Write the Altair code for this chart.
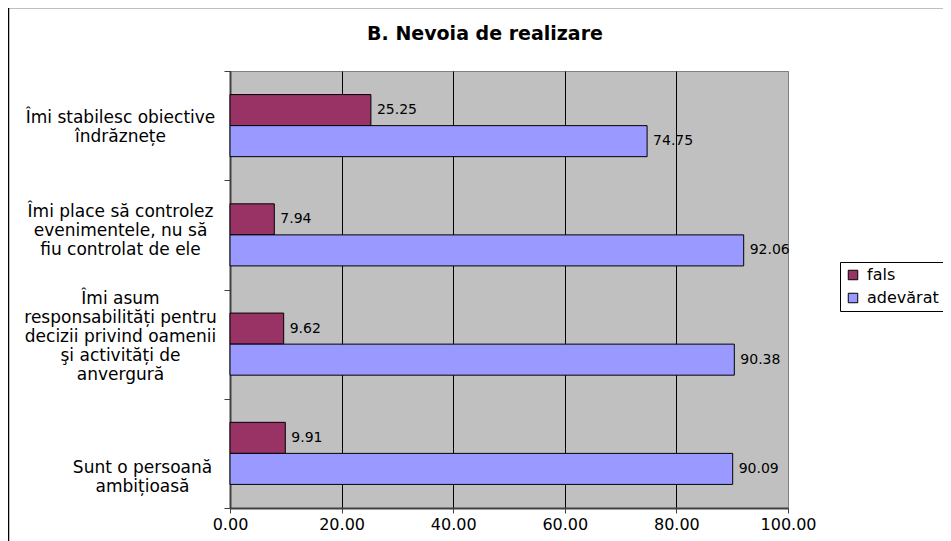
import altair as alt
import pandas as pd

# ---- data ----
categories = [
    "Îmi stabilesc obiective|îndrăznețe",
    "Îmi place să controlez|evenimentele, nu să|fiu controlat de ele",
    "Îmi asum|responsabilități pentru|decizii privind oamenii|şi activități de|anvergură",
    "Sunt o persoană|ambițioasă",
]
series_names = ["fals", "adevărat"]
fals = [25.25, 7.94, 9.62, 9.91]
adevarat = [74.75, 92.06, 90.38, 90.09]
x_ticks = [0, 20, 40, 60, 80, 100]
series_colors = ["#993366", "#9999FF"]
title_text = "B. Nevoia de realizare"

rows = []
for i, c in enumerate(categories):
    rows.append({"cat": c, "serie": series_names[0], "val": fals[i]})
    rows.append({"cat": c, "serie": series_names[1], "val": adevarat[i]})
df = pd.DataFrame(rows)

# ---- styling ----
FONT = "DejaVu Sans"
W, H = 558, 437
LINE_H = 19
# vertical shift of each wrapped category label (first line vs band centre), as in the reference
label_shift = [-8, -23, -46, 14]
label_pad = [104, 104, 104, 82]

offset_cond = [
    {"test": f"datum.value === '{c}'", "value": label_shift[i]}
    for i, c in enumerate(categories)
]
pad_cond = [
    {"test": f"datum.value === '{c}'", "value": label_pad[i]}
    for i, c in enumerate(categories)
]

x_enc = alt.X(
    "val:Q",
    scale=alt.Scale(domain=[0, 100], nice=False),
    axis=alt.Axis(
        values=x_ticks, format=".2f", title=None,
        grid=True,
        gridColor={"condition": {"test": "datum.value === 100", "value": "#808080"}, "value": "black"},
        gridWidth=1, gridOpacity=1, labelFlush=False,
        labelFont=FONT, labelFontSize=16, labelColor="black", labelPadding=3,
        tickSize=5, tickColor="#404040", domainColor="#404040", domainWidth=2,
    ),
)
y_enc = alt.Y(
    "cat:N", sort=categories,
    scale=alt.Scale(paddingInner=0, paddingOuter=0),
    axis=alt.Axis(
        title=None, grid=False,
        labelExpr="split(datum.label, '|')",
        labelAlign="center", labelBaseline="middle",
        labelPadding={"condition": pad_cond, "value": 104},
        labelOffset={"condition": offset_cond, "value": 0},
        labelLimit=400,
        labelFont=FONT, labelFontSize=17, labelLineHeight=LINE_H, labelColor="black",
        tickBand="extent", tickSize=6, tickColor="#404040",
        domainColor="#404040", domainWidth=2,
    ),
)
yoff_enc = alt.YOffset(
    "serie:N", sort=series_names,
    scale=alt.Scale(paddingInner=0, paddingOuter=0.76),
)

base = alt.Chart(df)

bars = base.mark_bar(stroke="black", strokeWidth=1).encode(
    x=x_enc, y=y_enc, yOffset=yoff_enc,
    color=alt.Color(
        "serie:N",
        scale=alt.Scale(domain=series_names, range=series_colors),
        legend=alt.Legend(
            orient="none", legendX=610, legendY=191, title=None,
            strokeColor="black", fillColor="white", padding=5,
            symbolType="square", symbolSize=90, symbolStrokeColor="black",
            symbolStrokeWidth=1, labelFont=FONT, labelFontSize=16,
            labelColor="black", rowPadding=7, labelOffset=6,
        ),
    ),
)

labels = base.mark_text(
    align="left", baseline="middle", dx=6, font=FONT, fontSize=14, color="black"
).encode(
    x="val:Q", y=alt.Y("cat:N", sort=categories), yOffset=alt.YOffset("serie:N", sort=series_names),
    text=alt.Text("val:Q", format=".2f"),
)

frame_df = pd.DataFrame({"k": [0]})
left_border = alt.Chart(frame_df).mark_rule(color="black", strokeWidth=1.5).encode(
    x=alt.value(-221.5), y=alt.value(-64), y2=alt.value(H + 40)
)
top_border = alt.Chart(frame_df).mark_rule(color="black", strokeWidth=1.5).encode(
    x=alt.value(-222), x2=alt.value(W + 170), y=alt.value(-63.5)
)
title = alt.Chart(frame_df).mark_text(
    text=title_text, font=FONT, fontSize=19, fontWeight="bold",
    align="center", baseline="middle", color="black",
).encode(x=alt.value(255), y=alt.value(-37))

chart = alt.layer(bars, labels, left_border, top_border, title).properties(
    width=W, height=H,
    padding={"left": 222, "top": 63, "right": 155, "bottom": 33},
    autosize=alt.AutoSizeParams(type="none"),
    background="white",
).configure_view(stroke="#808080", strokeWidth=1, fill="#C0C0C0")

chart.save("out.html", embed_options={"renderer": "svg", "actions": False})
